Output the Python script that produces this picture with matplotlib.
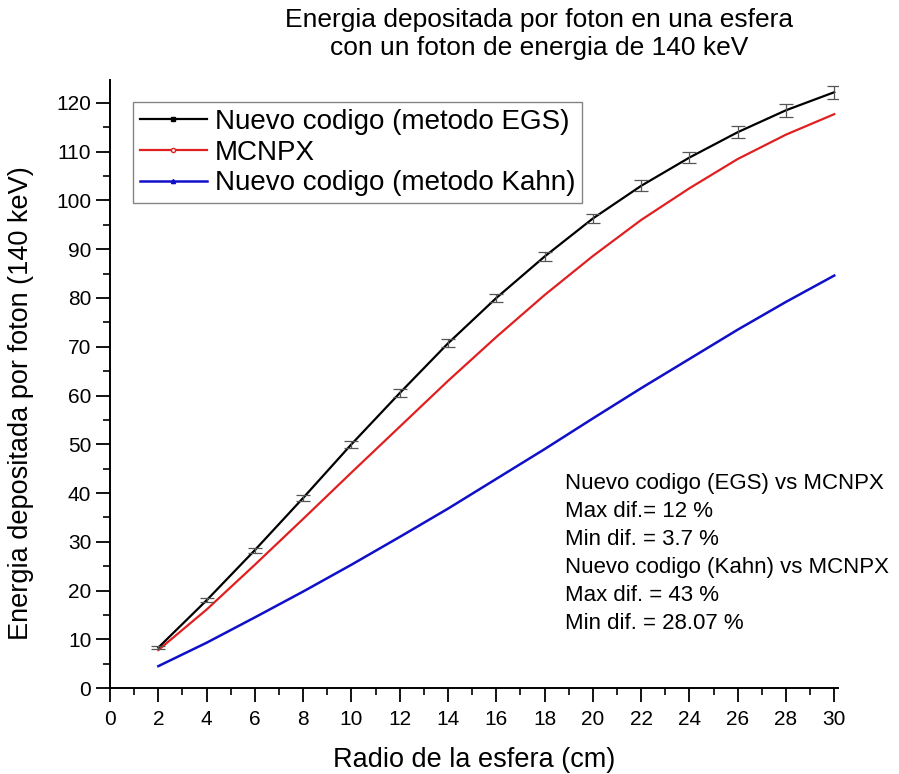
import matplotlib
matplotlib.use("Agg")
import matplotlib.pyplot as plt
from matplotlib.lines import Line2D
from matplotlib.ticker import MultipleLocator

plt.rcParams['font.family'] = ['Liberation Sans', 'DejaVu Sans']

radio = [2, 4, 6, 8, 10, 12, 14, 16, 18, 20, 22, 24, 26, 28, 30]
egs = [8.3, 18.0, 28.3, 39.0, 50.0, 60.5, 70.7, 80.0, 88.5, 96.3, 103.0, 108.8, 114.0, 118.5, 122.2]
egs_err = [0.3, 0.4, 0.5, 0.6, 0.7, 0.8, 0.8, 0.9, 1.0, 1.0, 1.1, 1.2, 1.2, 1.3, 1.3]
mcnpx = [7.8, 16.1, 25.3, 34.7, 44.2, 53.6, 63.0, 72.0, 80.6, 88.6, 96.0, 102.5, 108.5, 113.5, 117.7]
kahn = [4.5, 9.3, 14.5, 19.8, 25.3, 31.0, 36.8, 42.9, 49.0, 55.3, 61.5, 67.5, 73.5, 79.2, 84.6]

etiquetas = ["Nuevo codigo (metodo EGS)", "MCNPX", "Nuevo codigo (metodo Kahn)"]
notas = ["Nuevo codigo (EGS) vs MCNPX", "Max dif.= 12 %", "Min dif. = 3.7 %",
         "Nuevo codigo (Kahn) vs MCNPX", "Max dif. = 43 %", "Min dif. = 28.07 %"]

fig = plt.figure(figsize=(8.99, 7.74), dpi=100)
ax = fig.add_axes([0.1224, 0.111, 0.8096, 0.7856])

ax.plot(radio, mcnpx, color="#e02020", lw=1.6)
ax.plot(radio, kahn, color="#1010c8", lw=1.8)
ax.plot(radio, egs, color="black", lw=1.6)
ax.errorbar(radio, egs, yerr=egs_err, fmt="none", ecolor="#555555", elinewidth=0.9,
            capsize=5, capthick=0.9)

ax.set_xlim(0, 30.15)
ax.set_ylim(0, 124.7)
ax.xaxis.set_major_locator(MultipleLocator(2))
ax.xaxis.set_minor_locator(MultipleLocator(1))
ax.yaxis.set_major_locator(MultipleLocator(10))
ax.yaxis.set_minor_locator(MultipleLocator(5))
ax.tick_params(which="major", direction="out", length=10, width=1.3, labelsize=15)
ax.tick_params(axis="x", which="major", pad=6)
ax.tick_params(which="minor", direction="out", length=5, width=1.2)
ax.spines["top"].set_visible(False)
ax.spines["right"].set_visible(False)
for s in ("left", "bottom"):
    ax.spines[s].set_linewidth(1.4)

ax.set_xlabel("Radio de la esfera (cm)", fontsize=19.5, labelpad=13)
ax.set_ylabel("Energia depositada por foton (140 keV)", fontsize=19.5)
ax.yaxis.set_label_coords(-0.104, 0.469)

fig.text(0.6, 0.956, "Energia depositada por foton en una esfera\ncon un foton de energia de 140 keV",
         ha="center", va="center", fontsize=19, linespacing=1.25)

handles = [
    Line2D([], [], color="black", lw=1.6, marker="s", markersize=3),
    Line2D([], [], color="#e02020", lw=1.6, marker="o", markersize=3, markerfacecolor="white"),
    Line2D([], [], color="#1010c8", lw=1.8, marker="^", markersize=3),
]
leg = ax.legend(handles, etiquetas, loc="upper left", bbox_to_anchor=(0.0316, 0.964),
                fontsize=20, frameon=True, fancybox=False, edgecolor="#666666",
                handlelength=2.4, handletextpad=0.3, borderpad=0.25, labelspacing=0.17,
                borderaxespad=0)
leg.get_frame().set_linewidth(1.0)

for i, t in enumerate(notas):
    ax.text(0.625, 0.337 - i * 0.046, t, transform=ax.transAxes, fontsize=16,
            ha="left", va="center")

fig.savefig("out.png", dpi=100)
